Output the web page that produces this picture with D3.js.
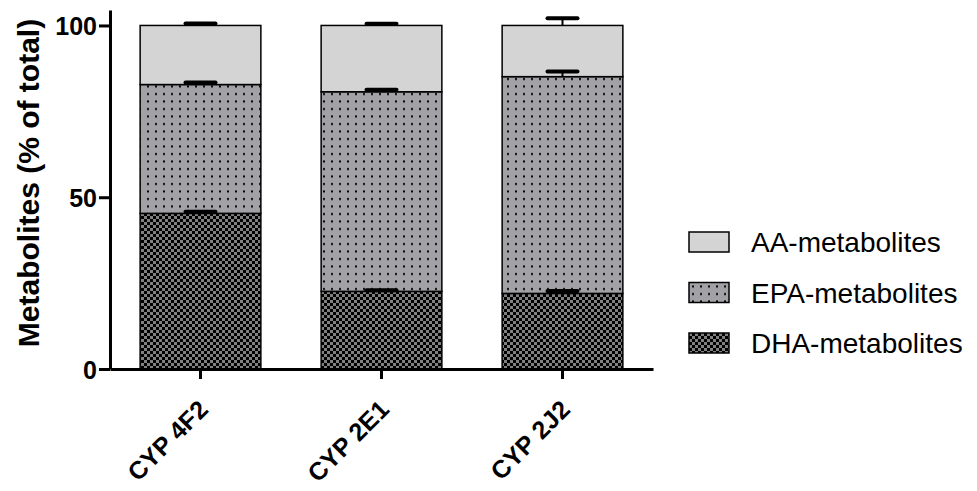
<!DOCTYPE html>
<html>
<head>
<meta charset="utf-8">
<script src="https://cdn.jsdelivr.net/npm/d3@7"></script>
<style>
	body { margin: 0; background: #fff; }
	svg { display: block; }
	text { font-family: "Liberation Sans", Arial, sans-serif; }
</style>
</head>
<body>
<div id="chart"></div>
<script>
//values, % of total per enzyme
var categories = ["CYP 4F2", "CYP 2E1", "CYP 2J2"];
var series_names = ["DHA-metabolites", "EPA-metabolites", "AA-metabolites"];
var dha_values = [45.3, 22.6, 22.0];
var epa_values = [37.5, 58.1, 63.1];
var aa_values = [17.2, 19.3, 14.9];
var dha_errors = [0.5, 0.3, 0.7];
var epa_errors = [0.6, 0.6, 1.5];
var aa_errors = [0.6, 0.5, 2.1];
var y_ticks = [0, 50, 100];

var width = 977, height = 491;

var svg = d3.select("#chart")
	.append("svg")
		.attr("width", width)
		.attr("height", height);

//fill patterns, one per series
var defs = svg.append("defs");

var p_aa = defs.append("pattern")
	.attr("id", "fill_aa")
	.attr("patternUnits", "userSpaceOnUse")
	.attr("width", 4).attr("height", 4);
p_aa.append("rect").attr("width", 4).attr("height", 4).attr("fill", "#d4d4d4");

var p_epa = defs.append("pattern")
	.attr("id", "fill_epa")
	.attr("patternUnits", "userSpaceOnUse")
	.attr("width", 8).attr("height", 7.5);
p_epa.append("rect").attr("width", 8).attr("height", 7.5).attr("fill", "#a2a2a6");
p_epa.append("rect").attr("x", 3).attr("y", 3).attr("width", 2).attr("height", 2).attr("fill", "#000");

var p_dha = defs.append("pattern")
	.attr("id", "fill_dha")
	.attr("patternUnits", "userSpaceOnUse")
	.attr("width", 6).attr("height", 6);
p_dha.append("rect").attr("width", 6).attr("height", 6).attr("fill", "#000");
p_dha.append("rect").attr("width", 3).attr("height", 3).attr("fill", "#808080");
p_dha.append("rect").attr("x", 3).attr("y", 3).attr("width", 3).attr("height", 3).attr("fill", "#808080");

var fills = {"DHA-metabolites": "url(#fill_dha)", "EPA-metabolites": "url(#fill_epa)", "AA-metabolites": "url(#fill_aa)"};

//scales
var x = d3.scaleBand()
	.domain(categories)
	.range([110, 653])
	.paddingInner(0.333)
	.paddingOuter(0.1665);

var y = d3.scaleLinear()
	.domain([0, 104.5])
	.range([369, 10]);

//stack the three series
var rows = categories.map(function(c, i)
	{
		return {
			cat: c,
			"DHA-metabolites": dha_values[i],
			"EPA-metabolites": epa_values[i],
			"AA-metabolites": aa_values[i]
		};
	}
);
var errors = {"DHA-metabolites": dha_errors, "EPA-metabolites": epa_errors, "AA-metabolites": aa_errors};

var stacked = d3.stack().keys(series_names)(rows);

var layers = svg.append("g")
	.attr("class", "layer_bars")
	.selectAll("g")
	.data(stacked)
	.enter()
		.append("g")
			.attr("fill", function(d){ return fills[d.key]; });

layers.selectAll("rect")
	.data(function(d){ return d; })
	.enter()
		.append("rect")
			.attr("x", function(d){ return x(d.data.cat); })
			.attr("width", x.bandwidth())
			.attr("y", function(d){ return y(d[1]); })
			.attr("height", function(d){ return y(d[0]) - y(d[1]); })
			.attr("stroke", "#000")
			.attr("stroke-width", 1.5);

//error bars, upward only
var err_g = svg.append("g").attr("class", "layer_errors");
stacked.forEach(function(layer)
	{
		layer.forEach(function(d, i)
		{
			var cx = x(d.data.cat) + x.bandwidth() / 2;
			var top = d[1] + errors[layer.key][i];
			err_g.append("line")
				.attr("x1", cx).attr("x2", cx)
				.attr("y1", y(d[1])).attr("y2", y(top))
				.attr("stroke", "#000").attr("stroke-width", 2);
			err_g.append("line")
				.attr("x1", cx - 15).attr("x2", cx + 15)
				.attr("y1", y(top)).attr("y2", y(top))
				.attr("stroke", "#000").attr("stroke-width", 4)
				.attr("stroke-linecap", "round");
		});
	}
);

//axes
var y_axis = svg.append("g")
	.attr("transform", "translate(110,0)")
	.call(d3.axisLeft(y).tickValues(y_ticks).tickSize(11).tickPadding(2).tickSizeOuter(0));

var x_axis = svg.append("g")
	.attr("transform", "translate(0,369)")
	.call(d3.axisBottom(x).tickSize(10).tickSizeOuter(0));

[y_axis, x_axis].forEach(function(a)
	{
		a.select(".domain").attr("stroke", "#000").attr("stroke-width", 3);
		a.selectAll(".tick line").attr("stroke", "#000").attr("stroke-width", 3);
	}
);

y_axis.selectAll(".tick text")
	.attr("font-size", 25)
	.attr("font-weight", "bold")
	.attr("fill", "#000")
	.attr("dy", "0.36em");

x_axis.selectAll(".tick text")
	.attr("font-size", 25)
	.attr("font-weight", "bold")
	.attr("fill", "#000")
	.attr("text-anchor", "end")
	.attr("dy", null)
	.attr("y", 0)
	.attr("transform", "translate(9,42) rotate(-45)");

//y label
svg.append("text")
	.attr("transform", "translate(39,183) rotate(-90)")
	.attr("text-anchor", "middle")
	.attr("font-size", 30)
	.attr("font-weight", "bold")
	.text("Metabolites (% of total)");

//legend, top to bottom is AA, EPA, DHA
var legend_items = series_names.slice().reverse();
var legend = svg.append("g")
	.attr("class", "legend")
	.selectAll("g")
	.data(legend_items)
	.enter()
		.append("g")
			.attr("transform", function(d, i){ return "translate(689," + (232 + i * 50.5) + ")"; });

legend.append("rect")
	.attr("width", 40)
	.attr("height", 20)
	.attr("fill", function(d){ return fills[d]; })
	.attr("stroke", "#000")
	.attr("stroke-width", 1.5);

legend.append("text")
	.attr("x", 62)
	.attr("y", 10)
	.attr("dy", "0.36em")
	.attr("font-size", 28)
	.text(function(d){ return d; });
</script>
</body>
</html>
